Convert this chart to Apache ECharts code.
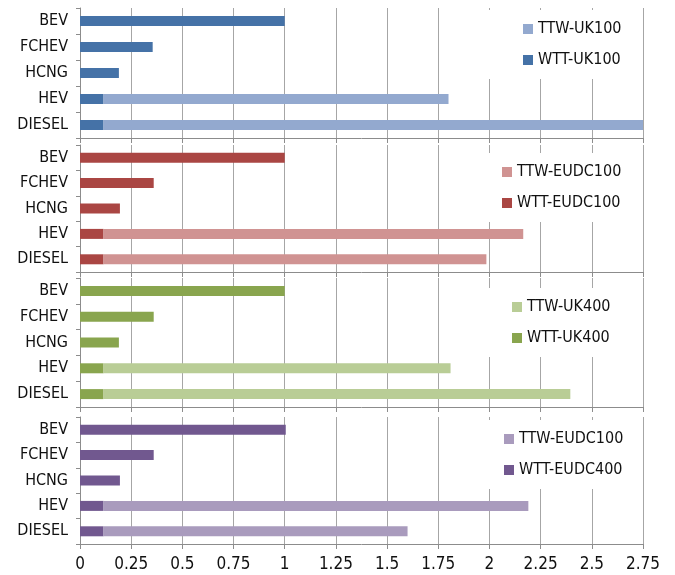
<!DOCTYPE html>
<html>
<head>
<meta charset="utf-8">
<script src="https://cdn.jsdelivr.net/npm/echarts/dist/echarts.min.js"></script>
<style>
  html, body { margin: 0; padding: 0; background: #fff; }
  #chart { width: 675px; height: 575px; }
</style>
</head>
<body>
<div id="chart"></div>
<script>
// Vehicle types, top to bottom in every panel
const categories = ['BEV', 'FCHEV', 'HCNG', 'HEV', 'DIESEL'];
const xTicks = [0, 0.25, 0.5, 0.75, 1, 1.25, 1.5, 1.75, 2, 2.25, 2.5, 2.75];

// Panel 1: UK100
const wttUK100 = [1.0, 0.355, 0.19, 0.115, 0.115];
const ttwUK100 = [0, 0, 0, 1.685, 2.635];
// Panel 2: EUDC100
const wttEUDC100 = [1.0, 0.36, 0.195, 0.115, 0.115];
const ttwEUDC100 = [0, 0, 0, 2.05, 1.87];
// Panel 3: UK400
const wttUK400 = [1.0, 0.36, 0.19, 0.115, 0.115];
const ttwUK400 = [0, 0, 0, 1.695, 2.28];
// Panel 4: EUDC400
const wttEUDC400 = [1.005, 0.36, 0.195, 0.115, 0.115];
const ttwEUDC400 = [0, 0, 0, 2.075, 1.485];

// Legend captions per panel (TTW first, then WTT)
const legendTTW = ['TTW-UK100', 'TTW-EUDC100', 'TTW-UK400', 'TTW-EUDC100'];
const legendWTT = ['WTT-UK100', 'WTT-EUDC100', 'WTT-UK400', 'WTT-EUDC400'];

const panels = [
  { wtt: wttUK100,   ttw: ttwUK100,   dark: '#4572A7', light: '#93A9CF' },
  { wtt: wttEUDC100, ttw: ttwEUDC100, dark: '#AA4643', light: '#D09392' },
  { wtt: wttUK400,   ttw: ttwUK400,   dark: '#89A54E', light: '#B9CD96' },
  { wtt: wttEUDC400, ttw: ttwEUDC400, dark: '#71588F', light: '#A99BBD' }
];

// Layout of the four stacked plot areas
const gridTops = [8, 145, 278, 417];
const gridHeights = [130, 127, 129, 127];
const legendPos = [
  { left: 481, top: 10 },
  { left: 460, top: 153 },
  { left: 470, top: 288 },
  { left: 462, top: 420 }
];

const FONT = "'DejaVu Sans Condensed', 'Liberation Sans Narrow', sans-serif";
const GRID_GRAY = '#a6a6a6';
const AXIS_GRAY = '#8c8c8c';

const grid = [], xAxis = [], yAxis = [], series = [], legend = [];
const captions = {};

panels.forEach((p, i) => {
  grid.push({ left: 80, right: 32, top: gridTops[i], height: gridHeights[i] });
  xAxis.push({
    type: 'value', gridIndex: i, min: 0, max: 2.75, interval: 0.25,
    axisLine: { show: true, lineStyle: { color: AXIS_GRAY } },
    axisTick: { show: true, length: 5, lineStyle: { color: AXIS_GRAY } },
    splitLine: { show: true, lineStyle: { color: GRID_GRAY, width: 1 } },
    axisLabel: {
      show: i === 3, margin: 12, color: '#111', fontSize: 17, fontFamily: FONT,
      formatter: v => String(v)
    }
  });
  yAxis.push({
    type: 'category', gridIndex: i, data: categories, inverse: true,
    axisLine: { show: true, lineStyle: { color: AXIS_GRAY } },
    axisTick: { show: true, length: 4, lineStyle: { color: AXIS_GRAY } },
    axisLabel: { margin: 12, color: '#111', fontSize: 16, fontFamily: FONT }
  });
  const wttName = 'wtt' + i, ttwName = 'ttw' + i;
  captions[wttName] = legendWTT[i];
  captions[ttwName] = legendTTW[i];
  series.push({
    name: wttName, type: 'bar', xAxisIndex: i, yAxisIndex: i, stack: 's' + i,
    data: p.wtt, barWidth: 10, itemStyle: { color: p.dark }
  });
  series.push({
    name: ttwName, type: 'bar', xAxisIndex: i, yAxisIndex: i, stack: 's' + i,
    data: p.ttw, barWidth: 10, itemStyle: { color: p.light }
  });
  legend.push({
    data: [ttwName, wttName],
    orient: 'vertical',
    left: legendPos[i].left, top: legendPos[i].top,
    padding: [10, 14, 10, 42],
    backgroundColor: '#fff',
    icon: 'rect', itemWidth: 10, itemHeight: 10, itemGap: 13,
    selectedMode: false,
    formatter: n => captions[n],
    textStyle: { color: '#111', fontSize: 16, lineHeight: 18, fontFamily: FONT }
  });
});

const chart = echarts.init(document.getElementById('chart'), null, { renderer: 'canvas' });
chart.setOption({
  animation: false,
  backgroundColor: '#fff',
  grid, xAxis, yAxis, series, legend
});
</script>
</body>
</html>
